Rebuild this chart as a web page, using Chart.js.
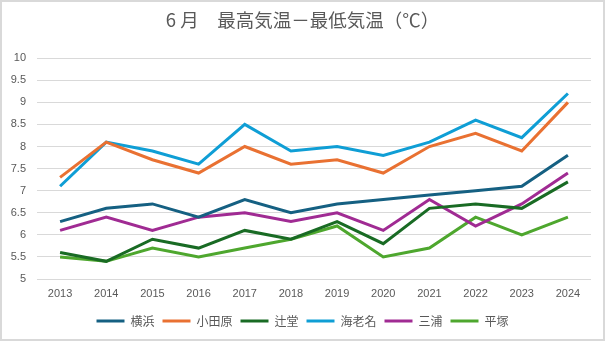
<!DOCTYPE html>
<html lang="ja">
<head>
<meta charset="UTF-8">
<title>6月 最高気温－最低気温</title>
<script src="https://cdn.jsdelivr.net/npm/chart.js"></script>
<style>
  html, body { margin: 0; padding: 0; background: #fff; }
  #wrap {
    position: relative;
    width: 601px; height: 337px;
    border: 2px solid #d9d9d9;
  }
</style>
</head>
<body>
<div id="wrap"><canvas id="chart"></canvas></div>
<script>
// 年ごとの6月の気温差（最高気温－最低気温の平均, ℃）
const years = ['2013','2014','2015','2016','2017','2018','2019','2020','2021','2022','2023','2024'];
const yokohama  = [6.3, 6.6, 6.7, 6.4, 6.8, 6.5, 6.7, 6.8, 6.9, 7.0, 7.1, 7.8];
const odawara   = [7.3, 8.1, 7.7, 7.4, 8.0, 7.6, 7.7, 7.4, 8.0, 8.3, 7.9, 9.0];
const tsujido   = [5.6, 5.4, 5.9, 5.7, 6.1, 5.9, 6.3, 5.8, 6.6, 6.7, 6.6, 7.2];
const ebina     = [7.1, 8.1, 7.9, 7.6, 8.5, 7.9, 8.0, 7.8, 8.1, 8.6, 8.2, 9.2];
const miura     = [6.1, 6.4, 6.1, 6.4, 6.5, 6.3, 6.5, 6.1, 6.8, 6.2, 6.7, 7.4];
const hiratsuka = [5.5, 5.4, 5.7, 5.5, 5.7, 5.9, 6.2, 5.5, 5.7, 6.4, 6.0, 6.4];

const seriesNames = ['横浜', '小田原', '辻堂', '海老名', '三浦', '平塚'];
const seriesData = [yokohama, odawara, tsujido, ebina, miura, hiratsuka];
const seriesColors = ['#156082', '#E97132', '#196B24', '#0F9ED5', '#A02B93', '#4EA72E'];

const textColor = '#595959';
const gridColor = '#d9d9d9';

const datasets = seriesNames.map((name, i) => ({
  label: name,
  data: seriesData[i],
  borderColor: seriesColors[i],
  backgroundColor: seriesColors[i],
  borderWidth: 3,
  pointRadius: 0,
  tension: 0
}));

new Chart(document.getElementById('chart'), {
  type: 'line',
  data: { labels: years, datasets },
  options: {
    responsive: true,
    maintainAspectRatio: false,
    animation: false,
    layout: { padding: { left: 0, right: 0, top: 0, bottom: 2 } },
    plugins: {
      title: {
        display: true,
        text: '6 月　最高気温－最低気温（℃）',
        color: textColor,
        font: { family: '"Noto Sans CJK JP", sans-serif', size: 18.5, weight: 'normal' },
        padding: { top: 7, bottom: 27 }
      },
      legend: {
        position: 'bottom',
        labels: {
          color: textColor,
          font: { family: '"Noto Sans CJK JP", sans-serif', size: 12 },
          boxWidth: 28,
          boxHeight: 3,
          padding: 8,
          generateLabels(chart) {
            return chart.data.datasets.map((ds, i) => ({
              text: ds.label,
              fillStyle: ds.borderColor,
              strokeStyle: ds.borderColor,
              lineWidth: 0,
              fontColor: textColor,
              hidden: false,
              datasetIndex: i
            }));
          }
        }
      },
      tooltip: { enabled: false }
    },
    scales: {
      x: {
        offset: true,
        grid: { display: false, drawTicks: false },
        border: { display: false },
        afterFit(scale) { scale.height = 28; },
        ticks: {
          color: textColor,
          font: { family: '"Liberation Sans", Arial, sans-serif', size: 11 },
          padding: 8,
          maxRotation: 0
        }
      },
      y: {
        min: 5,
        max: 10,
        grid: { color: gridColor, drawTicks: false },
        border: { display: false },
        afterFit(scale) { scale.width = 35; },
        ticks: {
          stepSize: 0.5,
          color: textColor,
          font: { family: '"Liberation Sans", Arial, sans-serif', size: 11 },
          padding: 11,
          callback: (v) => String(v)
        }
      },
      // empty right-hand margin so the plot stops short of the frame
      yRight: {
        position: 'right',
        min: 5,
        max: 10,
        grid: { display: false, drawTicks: false },
        border: { display: false },
        ticks: { display: false },
        afterFit(scale) { scale.width = 12; }
      }
    }
  }
});
</script>
</body>
</html>
